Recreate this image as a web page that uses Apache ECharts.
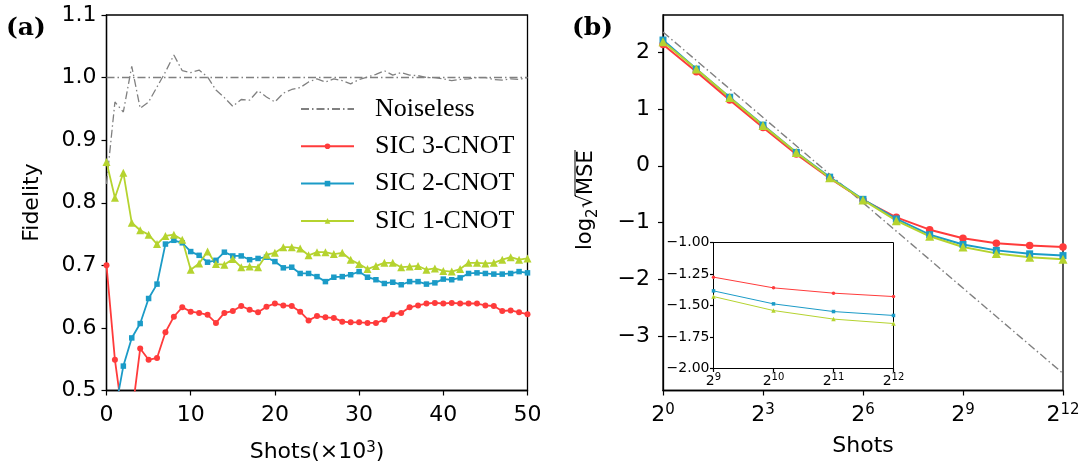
<!DOCTYPE html>
<html><head><meta charset="utf-8">
<script src="https://cdn.jsdelivr.net/npm/echarts@6/dist/echarts.min.js"></script>
<style>html,body{margin:0;padding:0;background:#fff}#c{width:1084px;height:463px}</style>
</head><body><div id="c"></div>
<script>
// ---------- data: panel (a) ----------
const shotsK = [0,1,2,3,4,5,6,7,8,9,10,11,12,13,14,15,16,17,18,19,20,21,22,23,24,25,26,27,28,29,30,31,32,33,34,35,36,37,38,39,40,41,42,43,44,45,46,47,48,49,50];
const noiseless = [0.83,0.961,0.945,1.018,0.951,0.961,0.985,1.009,1.036,1.011,1.008,1.012,1.001,0.980,0.968,0.954,0.965,0.964,0.979,0.969,0.961,0.975,0.981,0.984,0.993,0.998,0.993,0.998,0.995,0.990,0.997,1.001,1.005,1.011,1.004,1.008,1.004,1.003,1.000,1.000,0.998,0.995,0.997,0.998,1.000,1.000,0.997,0.996,0.998,0.997,1.000];
const noiselessIdeal = 1.0;
const sic3 = [0.700,0.549,0.45,0.46,0.567,0.549,0.552,0.593,0.618,0.633,0.626,0.624,0.621,0.608,0.624,0.627,0.635,0.629,0.625,0.634,0.639,0.636,0.635,0.626,0.612,0.619,0.617,0.616,0.610,0.609,0.609,0.608,0.608,0.613,0.622,0.624,0.633,0.636,0.639,0.640,0.639,0.640,0.639,0.639,0.639,0.636,0.635,0.627,0.628,0.625,0.622];
const sic2 = [0.42,0.466,0.539,0.584,0.607,0.647,0.670,0.734,0.740,0.736,0.722,0.716,0.705,0.708,0.721,0.715,0.715,0.709,0.711,0.713,0.706,0.696,0.697,0.687,0.687,0.682,0.674,0.681,0.682,0.685,0.690,0.681,0.677,0.671,0.673,0.669,0.674,0.674,0.670,0.672,0.678,0.677,0.680,0.687,0.688,0.687,0.686,0.686,0.687,0.690,0.688];
const sic1 = [0.865,0.808,0.848,0.768,0.756,0.749,0.734,0.747,0.749,0.741,0.693,0.703,0.722,0.702,0.701,0.710,0.697,0.698,0.697,0.717,0.720,0.729,0.729,0.727,0.716,0.721,0.721,0.718,0.720,0.709,0.702,0.694,0.699,0.704,0.704,0.697,0.698,0.699,0.693,0.695,0.691,0.690,0.694,0.704,0.704,0.703,0.704,0.709,0.713,0.709,0.711];
// ---------- data: panel (b) ----------
const exponents = [0,1,2,3,4,5,6,7,8,9,10,11,12];
const mse3 = [2.13,1.654,1.158,0.672,0.205,-0.22,-0.60,-0.907,-1.123,-1.275,-1.36,-1.402,-1.429];
const mse2 = [2.21,1.70,1.205,0.715,0.235,-0.20,-0.59,-0.935,-1.211,-1.384,-1.487,-1.548,-1.579];
const mse1 = [2.18,1.70,1.198,0.707,0.233,-0.21,-0.60,-0.965,-1.24,-1.429,-1.54,-1.608,-1.643];
const idealX = [0,12];
const idealY = [2.35,-3.65];
const mseTicks = [-3,-2,-1,0,1,2];
const insetStart = 9;

const RED='#ff3b3b', BLUE='#1b9bc7', GREEN='#b5d32f', GRAY='#808080';
const DASHDOT=[8,3,1.5,3];
const FONT='DejaVu Sans';
const pairs=(xs,ys)=>xs.map((x,i)=>[x,ys[i]]);
const minus=s=>String(s).replace('-','\u2212');

const chart = echarts.init(document.getElementById('c'));
const axisLineS = {show:true, onZero:false, lineStyle:{color:'#000', width:1.3}};
const axisLineI = {show:true, onZero:false, lineStyle:{color:'#000', width:1}};
const tickS = (len)=>({show:true, length:len, lineStyle:{color:'#000', width:1.2}});

function sicSeries(name, color, sym, size, xi, data, lw){
  return {type:'line', name, xAxisIndex:xi, yAxisIndex:xi, data, symbol:sym, symbolSize:size,
    showSymbol:true, clip:true, lineStyle:{color, width:lw}, itemStyle:{color}, emphasis:{disabled:true}, z:3};
}

const option = {
  animation:false,
  backgroundColor:'#fff',
  grid:[
    {left:106.5, top:15, width:421, height:375.5, show:true, borderColor:'#000', borderWidth:1.3, backgroundColor:'transparent'},
    {left:663, top:15, width:400, height:375.5, show:true, borderColor:'#000', borderWidth:1.3, backgroundColor:'transparent'},
    {left:713.5, top:242.5, width:180, height:126, show:true, borderColor:'#000', borderWidth:1, backgroundColor:'#fff'}
  ],
  xAxis:[
    {gridIndex:0, type:'value', min:0, max:50, interval:10, axisLine:axisLineS, axisTick:tickS(5), splitLine:{show:false},
      axisLabel:{color:'#000', fontFamily:FONT, fontSize:22, margin:14}},
    {gridIndex:1, type:'value', min:0, max:12, interval:3, axisLine:axisLineS, axisTick:tickS(5), splitLine:{show:false},
      axisLabel:{color:'#000', margin:12, formatter:v=>'{b|2}{s|'+v+'}',
        rich:{b:{fontFamily:FONT, fontSize:22, lineHeight:26, color:'#000'}, s:{fontFamily:FONT, fontSize:15, lineHeight:16, verticalAlign:'top', color:'#000'}}}},
    {gridIndex:2, type:'value', min:9, max:12, interval:1, axisLine:axisLineI, axisTick:tickS(3.5), splitLine:{show:false},
      axisLabel:{color:'#000', margin:4, formatter:v=>'{b|2}{s|'+v+'}',
        rich:{b:{fontFamily:FONT, fontSize:14, lineHeight:17, color:'#000'}, s:{fontFamily:FONT, fontSize:10, lineHeight:11, verticalAlign:'top', color:'#000'}}}}
  ],
  yAxis:[
    {gridIndex:0, type:'value', min:0.5, max:1.1, interval:0.1, axisLine:axisLineS, axisTick:tickS(5), splitLine:{show:false},
      axisLabel:{color:'#000', fontFamily:FONT, fontSize:22, margin:10, formatter:v=>v.toFixed(1)}},
    {gridIndex:1, type:'value', min:-3.95, max:2.65, axisLine:axisLineS, axisTick:Object.assign(tickS(5),{customValues:mseTicks}), splitLine:{show:false},
      axisLabel:{color:'#000', fontFamily:FONT, fontSize:22, margin:13, customValues:mseTicks, formatter:v=>minus(v)}},
    {gridIndex:2, type:'value', min:-2, max:-1, interval:0.25, axisLine:axisLineI, axisTick:tickS(3.5), splitLine:{show:false},
      axisLabel:{color:'#000', fontFamily:FONT, fontSize:14, margin:4, formatter:v=>minus(v.toFixed(2))}}
  ],
  legend:{
    data:[{name:'Noiseless', itemStyle:{opacity:0}}, 'SIC 3-CNOT', 'SIC 2-CNOT', 'SIC 1-CNOT'],
    orient:'vertical', left:300, top:96, padding:0, itemWidth:53, itemHeight:7, itemGap:11.3, selectedMode:false,
    textStyle:{fontFamily:'Liberation Serif', fontSize:26, lineHeight:26, color:'#000', padding:[0,0,0,16]}
  },
  series:[
    {type:'line', name:'Noiseless', xAxisIndex:0, yAxisIndex:0, data:pairs(shotsK, noiseless), symbol:'none', clip:true,
      lineStyle:{color:GRAY, width:1.3, type:DASHDOT}, itemStyle:{color:GRAY}, z:2,
      markLine:{silent:true, symbol:['none','none'], label:{show:false}, lineStyle:{color:GRAY, width:1.3, type:DASHDOT}, data:[{yAxis:noiselessIdeal}]}},
    sicSeries('SIC 3-CNOT', RED, 'circle', 6, 0, pairs(shotsK, sic3), 1.8),
    sicSeries('SIC 2-CNOT', BLUE, 'rect', 5.5, 0, pairs(shotsK, sic2), 1.8),
    sicSeries('SIC 1-CNOT', GREEN, 'triangle', 8, 0, pairs(shotsK, sic1), 1.8),
    {type:'line', name:'Ideal', xAxisIndex:1, yAxisIndex:1, data:pairs(idealX, idealY), symbol:'none',
      lineStyle:{color:GRAY, width:1.4, type:DASHDOT}, z:2},
    sicSeries('SIC 3-CNOT', RED, 'circle', 7.5, 1, pairs(exponents, mse3), 2),
    sicSeries('SIC 2-CNOT', BLUE, 'rect', 7, 1, pairs(exponents, mse2), 2),
    sicSeries('SIC 1-CNOT', GREEN, 'triangle', 9, 1, pairs(exponents, mse1), 2),
    sicSeries('SIC 3-CNOT', RED, 'circle', 3.5, 2, pairs(exponents.slice(insetStart), mse3.slice(insetStart)), 1),
    sicSeries('SIC 2-CNOT', BLUE, 'rect', 3.5, 2, pairs(exponents.slice(insetStart), mse2.slice(insetStart)), 1),
    sicSeries('SIC 1-CNOT', GREEN, 'triangle', 4.5, 2, pairs(exponents.slice(insetStart), mse1.slice(insetStart)), 1)
  ],
  graphic:[
    {type:'text', left:6, top:16, style:{text:'(a)', font:'bold 25px "DejaVu Serif"', fill:'#000'}},
    {type:'text', left:572, top:16, style:{text:'(b)', font:'bold 25px "DejaVu Serif"', fill:'#000'}},
    {type:'text', x:32, y:202.5, rotation:Math.PI/2, style:{text:'Fidelity', font:'22px "DejaVu Sans"', fill:'#000', align:'center', verticalAlign:'middle'}},
    {type:'text', x:317, y:452, style:{text:'Shots(\u00d710{s|3})', font:'22px "DejaVu Sans"', fill:'#000', align:'center', verticalAlign:'middle',
      rich:{s:{fontFamily:FONT, fontSize:15, lineHeight:16, verticalAlign:'top'}}}},
    {type:'text', x:863, y:446, style:{text:'Shots', font:'22px "DejaVu Sans"', fill:'#000', align:'center', verticalAlign:'middle'}},
    {type:'group', x:586, y:203, rotation:Math.PI/2, children:[
      {type:'text', x:-47, y:0, style:{text:'log', font:'21px "DejaVu Sans"', fill:'#000', align:'left', verticalAlign:'middle'}},
      {type:'text', x:-15, y:7, style:{text:'2', font:'15px "DejaVu Sans"', fill:'#000', align:'left', verticalAlign:'middle'}},
      {type:'text', x:-5, y:1, style:{text:'\u221a', font:'21px "DejaVu Sans"', fill:'#000', align:'left', verticalAlign:'middle'}},
      {type:'line', shape:{x1:7, y1:-11, x2:53, y2:-11}, style:{stroke:'#000', lineWidth:1}},
      {type:'text', x:8, y:1, style:{text:'MSE', font:'21px "DejaVu Sans"', fill:'#000', align:'left', verticalAlign:'middle'}}
    ]}
  ]
};
chart.setOption(option);
</script></body></html>
